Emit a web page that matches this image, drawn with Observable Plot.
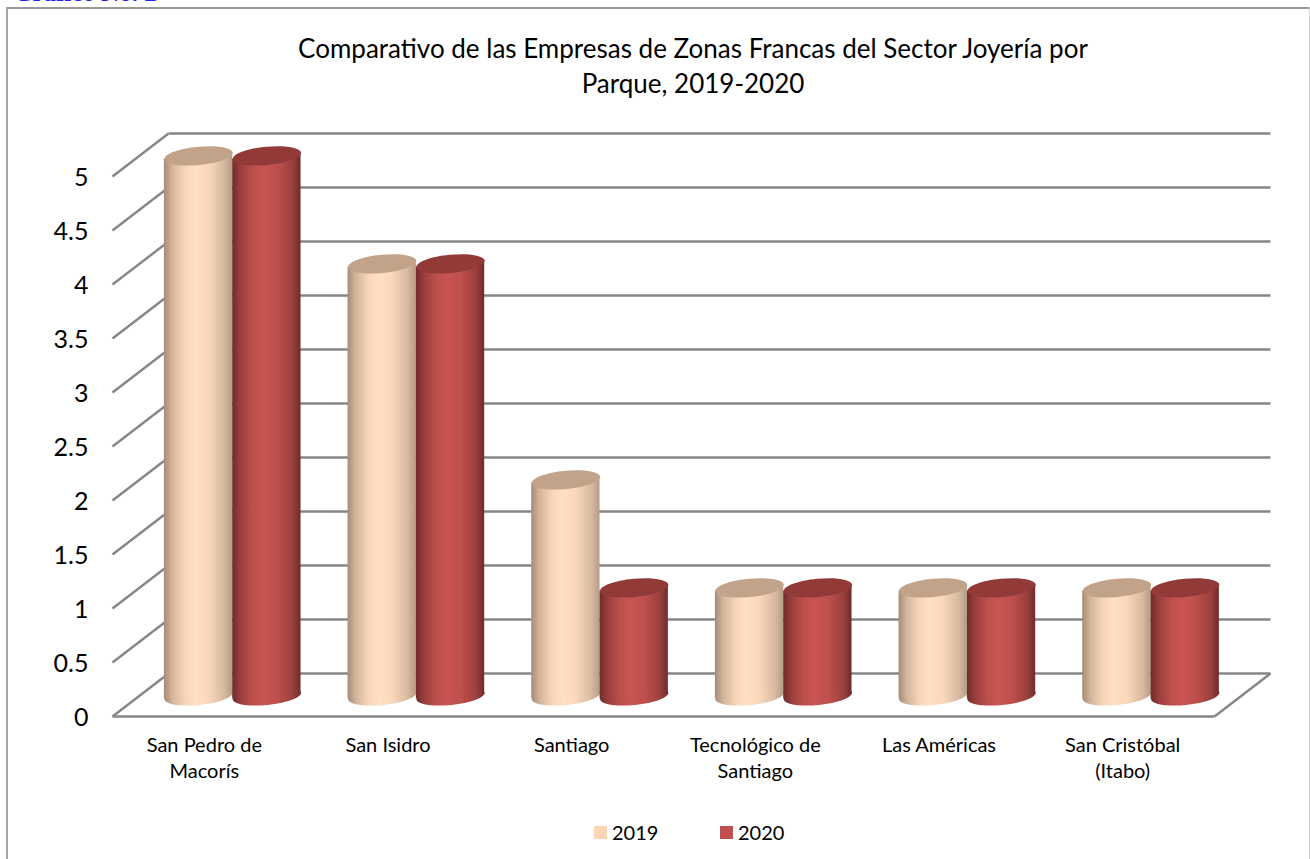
<!DOCTYPE html>
<html lang="es"><head><meta charset="utf-8">
<script src="https://cdn.jsdelivr.net/npm/d3@7"></script>
<script src="https://cdn.jsdelivr.net/npm/@observablehq/plot@0.6"></script>
<style>
html,body{margin:0;padding:0;background:#fff;overflow:hidden}
#page{position:relative;width:1310px;height:859px;overflow:hidden;font-family:Lato,"Noto Sans",sans-serif;color:#000}
#frameT{position:absolute;left:6px;top:7px;width:1304px;height:1.5px;background:#999}
#frameL{position:absolute;left:6px;top:7px;width:1.5px;height:852px;background:#a6a6a6}
#frameR{position:absolute;left:1309px;top:7px;width:1px;height:852px;background:#d0d0d0}
#tag{position:absolute;left:13px;top:-20px;font:bold 25px/25px "Liberation Serif",serif;color:#2222ee;white-space:nowrap}
#title{position:absolute;left:0;width:1386px;top:31px;text-align:center;font-size:26px;line-height:35px}
#legend{position:absolute;top:819px;left:0;font-size:20px;line-height:26px}
#legend span{position:absolute;white-space:nowrap}
#legend i{position:absolute;width:13px;height:13px;top:7px}
#chart{position:absolute;left:0;top:0}
</style></head><body>
<div id="page"><div id="chart"></div><div id="frameT"></div><div id="frameL"></div><div id="frameR"></div>
<div id="tag">Gráfico No. 2</div>
<div id="title">Comparativo de las Empresas de Zonas Francas del Sector Joyería por<br>Parque, 2019-2020</div>
<div id="legend"></div></div>
<script>
const categories = ["San Pedro de\nMacorís","San Isidro","Santiago","Tecnológico de\nSantiago","Las Américas","San Cristóbal\n(Itabo)"];
const values2019 = [5,4,2,1,1,1];
const values2020 = [5,4,1,1,1,1];
const years = ["2019","2020"];
const yTicks = [0,0.5,1,1.5,2,2.5,3,3.5,4,4.5,5];
const colors = {2019:"#fcd5b5",2020:"#c0504d"};

const depthX = 0.305, depthY = 0.398;      // wall offset in axis units
const midX = depthX/2 + 0.002, midY = depthY*0.48;
const colW = 0.372, tilt = 0.03;

const ellipse = (rx,ry,deg)=>({draw(c){
  const a=deg*Math.PI/180,k=0.5523,p=(x,y)=>[x*Math.cos(a)-y*Math.sin(a),x*Math.sin(a)+y*Math.cos(a)];
  c.moveTo(...p(rx,0));
  c.bezierCurveTo(...p(rx,k*ry),...p(k*rx,ry),...p(0,ry));
  c.bezierCurveTo(...p(-k*rx,ry),...p(-rx,k*ry),...p(-rx,0));
  c.bezierCurveTo(...p(-rx,-k*ry),...p(-k*rx,-ry),...p(0,-ry));
  c.bezierCurveTo(...p(k*rx,-ry),...p(rx,-k*ry),...p(rx,0));
  c.closePath();
}});
const cyl = ellipse(34.3,9.2,-5.5);

const defs = () => {
  const d = d3.create("svg:defs");
  const stops = {
    g2019:[[0,"#a58c76"],[.12,"#d2b59c"],[.3,"#f6d5b8"],[.45,"#ffe0c2"],[.65,"#f9d8bb"],[.88,"#d6b9a0"],[1,"#b59c86"]],
    g2020:[[0,"#6f2b2a"],[.12,"#9a3f3d"],[.3,"#bd4f4c"],[.45,"#ca5452"],[.65,"#bf504d"],[.88,"#9a403e"],[1,"#6e2c2b"]]
  };
  for (const id in stops){
    const g=d.append("linearGradient").attr("id",id).attr("x1",0).attr("x2",1).attr("y1",0).attr("y2",0);
    stops[id].forEach(([o,c])=>g.append("stop").attr("offset",o).attr("stop-color",c));
  }
  return d.node();
};

const grid = {stroke:"#868686",strokeWidth:2.4,strokeOpacity:1};
const gridMarks = [
  Plot.link(yTicks,{x1:()=>0,y1:d=>d,x2:()=>depthX,y2:d=>d+depthY,...grid}),
  Plot.link(yTicks,{x1:()=>depthX,y1:d=>d+depthY,x2:()=>6+depthX,y2:d=>d+depthY,...grid}),
  Plot.link([0],{x1:()=>0,y1:()=>0,x2:()=>6,y2:()=>0,...grid}),
  Plot.link([0],{x1:()=>6,y1:()=>0,x2:()=>6+depthX,y2:()=>depthY,...grid})
];

function cylinders(vals, side, grad, top){
  const cx = i => i+0.5+midX+side*colW/2;
  const rows = vals.flatMap((v,i)=>[
    {i,x:cx(i)-colW/2,y1:midY-tilt,y2:v+midY-tilt},
    {i,x:cx(i)+colW/2,y1:midY+tilt,y2:v+midY+tilt}
  ]);
  return [
    Plot.dot(vals,{x:(d,i)=>cx(i),y:()=>midY,symbol:cyl,r:1,fill:`url(#${grad})`,stroke:"none"}),
    Plot.areaY(rows,{x:"x",y1:"y1",y2:"y2",z:"i",fill:`url(#${grad})`,curve:"linear"}),
    Plot.dot(vals,{x:(d,i)=>cx(i),y:d=>d+midY,symbol:cyl,r:1,fill:top,stroke:"none"})
  ];
}

const chart = Plot.plot({
  width:1310,height:859,
  marginLeft:112,marginRight:96,marginTop:176,marginBottom:143,
  style:{background:"transparent",fontFamily:"Lato,'Noto Sans',sans-serif",color:"#000"},
  x:{domain:[0,6],axis:null},
  y:{domain:[0,5],axis:null},
  marks:[
    defs,
    ...gridMarks,
    ...cylinders(values2019,-1,"g2019","#c2a38a"),
    ...cylinders(values2020, 1,"g2020","#913a38"),
    Plot.axisY({ticks:yTicks,tickSize:0,tickPadding:24,fontSize:25,dy:1,tickFormat:d=>String(d),label:null,fill:"#000"}),
    Plot.text(categories,{x:(d,i)=>i+0.5,y:()=>0,text:d=>d,dy:17,lineAnchor:"top",lineHeight:1.3,fontSize:20,fill:"#000"})
  ]
});
document.getElementById("chart").append(chart);

const legendPos = {2019:[594,612],2020:[720,738]};
const lg = document.getElementById("legend");
years.forEach(y=>{
  const [a,b]=legendPos[y];
  const i=document.createElement("i");i.style.left=a+"px";i.style.background=colors[y];lg.append(i);
  const s=document.createElement("span");s.style.left=b+"px";s.textContent=y;lg.append(s);
});
</script></body></html>
